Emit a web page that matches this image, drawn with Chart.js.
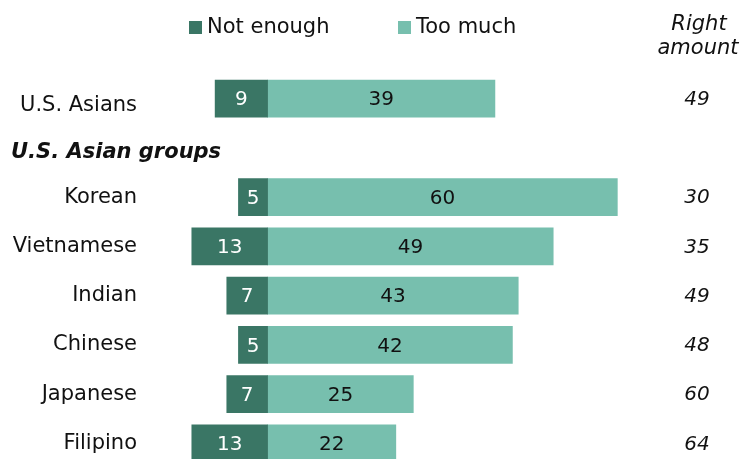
<!DOCTYPE html>
<html>
<head>
<meta charset="utf-8">
<script src="https://cdn.jsdelivr.net/npm/chart.js@4/dist/chart.umd.min.js"></script>
<style>
  html, body { margin: 0; padding: 0; background: #ffffff; overflow: hidden; }
  #wrap { width: 743px; height: 496px; }
</style>
</head>
<body>
<div id="wrap"><canvas id="c" width="743" height="496"></canvas></div>
<script>
// ---- data ----
const categories = ["U.S. Asians", "", "Korean", "Vietnamese", "Indian", "Chinese", "Japanese", "Filipino"];
const notEnough = [9, null, 5, 13, 7, 5, 7, 13];
const tooMuch = [39, null, 60, 49, 43, 42, 25, 22];
const rightAmount = [49, null, 30, 35, 49, 48, 60, 64];
const seriesNames = ["Not enough", "Too much"];
const groupHeader = "U.S. Asian groups";
const rightHeader = ["Right", "amount"];

const DARK = "#3a7665";
const LIGHT = "#77bfae";
const FONT = "'DejaVu Sans', Verdana, sans-serif";

const overlay = {
  id: "overlay",
  afterDatasetsDraw(chart) {
    const ctx = chart.ctx;
    const y = chart.scales.y;
    ctx.save();
    ctx.textBaseline = "middle";
    // value labels
    chart.data.datasets.forEach((ds, di) => {
      const meta = chart.getDatasetMeta(di);
      meta.data.forEach((bar, i) => {
        const v = ds.raw[i];
        if (v == null) return;
        const cx = (bar.x + bar.base) / 2;
        ctx.font = "20px " + FONT;
        ctx.textAlign = "center";
        ctx.fillStyle = di === 0 ? "#ffffff" : "#111111";
        ctx.fillText(String(v), cx, bar.y + 1.5);
      });
    });
    // right amount column
    ctx.font = "italic 20px " + FONT;
    ctx.fillStyle = "#111111";
    ctx.textAlign = "center";
    rightAmount.forEach((v, i) => {
      if (v == null) return;
      ctx.fillText(String(v), 697, y.getPixelForValue(i) + 1);
    });
    ctx.font = "italic 21px " + FONT;
    ctx.fillText(rightHeader[0], 699, 25);
    ctx.fillText(rightHeader[1], 698, 49);
    // group header
    ctx.font = "bold italic 21px " + FONT;
    ctx.textAlign = "left";
    ctx.fillText(groupHeader, 11, y.getPixelForValue(1) + 5);
    // legend
    ctx.font = "21px " + FONT;
    const legendItems = [
      { x: 189, color: DARK, label: seriesNames[0] },
      { x: 398, color: LIGHT, label: seriesNames[1] }
    ];
    legendItems.forEach(it => {
      ctx.fillStyle = it.color;
      ctx.fillRect(it.x, 21, 13, 13);
      ctx.fillStyle = "#111111";
      ctx.textAlign = "left";
      ctx.fillText(it.label, it.x + 18, 28);
    });
    ctx.restore();
  }
};

new Chart(document.getElementById("c"), {
  type: "bar",
  data: {
    labels: categories,
    datasets: [
      { label: seriesNames[0], raw: notEnough, data: notEnough.map(v => v == null ? null : -v),
        backgroundColor: DARK, barThickness: 37, borderWidth: 0 },
      { label: seriesNames[1], raw: tooMuch, data: tooMuch,
        backgroundColor: LIGHT, barThickness: 37, borderWidth: 0 }
    ]
  },
  options: {
    indexAxis: "y",
    responsive: false,
    animation: false,
    devicePixelRatio: 1,
    layout: { padding: { top: 74, bottom: 0, left: 0, right: 114 } },
    plugins: { legend: { display: false }, tooltip: { enabled: false } },
    scales: {
      x: {
        display: false,
        stacked: true,
        min: -20,
        max: 62
      },
      y: {
        stacked: true,
        grid: { display: false, drawTicks: false },
        border: { display: false },
        afterFit(scale) { scale.width = 151; },
        ticks: {
          padding: 14,
          color: "#111111",
          callback(value, index) {
            const lbl = this.getLabelForValue(value);
            // the overall row label sits a little lower in the original
            return index === 0 ? ["", lbl] : lbl;
          },
          font(ctx) {
            return ctx.index === 0
              ? { family: FONT, size: 21, lineHeight: "14px" }
              : { family: FONT, size: 21 };
          }
        }
      }
    }
  },
  plugins: [overlay]
});
</script>
</body>
</html>
